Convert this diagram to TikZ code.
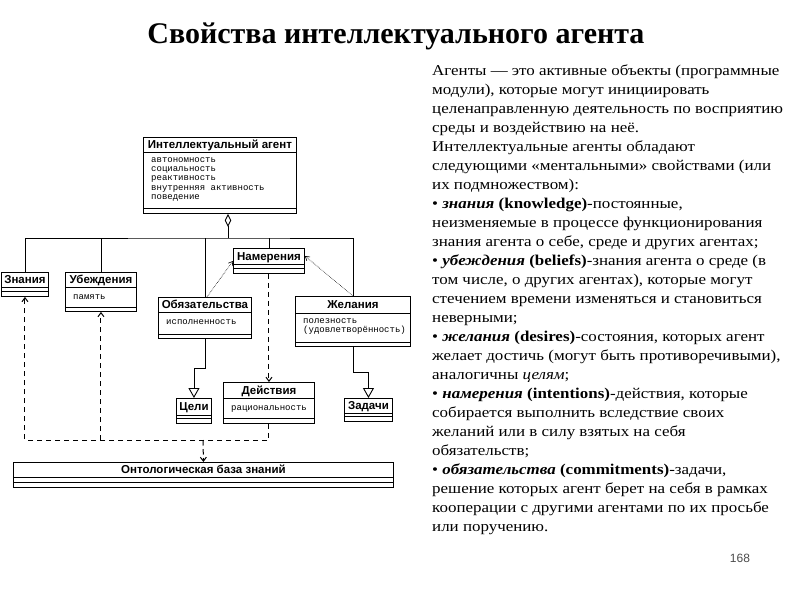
\documentclass[tikz,border=0pt]{standalone}
\usepackage{fontspec}
\setmainfont{Liberation Serif}
\setsansfont{Liberation Sans}
\setmonofont{Liberation Mono}
\newfontfamily\descfont{Liberation Serif}[FakeStretch=1.13]
\usetikzlibrary{positioning, arrows.meta, calc}

\begin{document}
\begin{tikzpicture}[x=1pt, y=-1pt,
      clsbox/.style={draw, line width=0.9pt, inner sep=0pt, fill=white},
      cname/.style={font=\sffamily\bfseries\fontsize{11.5}{13}\selectfont, text height=8.5pt, text depth=0.5pt, inner sep=0pt},
      cattr/.style={font=\ttfamily\fontsize{9}{9.2}\selectfont, align=left, inner sep=0pt, anchor=north west, execute at begin node=\strut},
      ln/.style={line width=0.9pt},
      aggr/.style={ln, -{Diamond[open, length=13pt, width=6.5pt]}},
      gen/.style={ln, -{Triangle[open, length=10pt, width=11pt]}},
      dep/.style={line width=1pt, dash pattern=on 5.5pt off 3.5pt, -{Straight Barb[length=4pt, width=6pt]}},
      rel/.style={line width=0.6pt, densely dotted, -{Straight Barb[length=4pt, width=5pt]}},
      ttl/.style={font=\bfseries\fontsize{30}{34}\selectfont, inner sep=0pt},
      txt/.style={font=\descfont\fontsize{15}{19}\selectfont, align=left, inner sep=0pt, anchor=north west},
      pgnum/.style={font=\sffamily\fontsize{12}{14}\selectfont, text=black!70, inner sep=0pt}]
      \fill[white] (0,0) rectangle (800,600);
      \useasboundingbox (0,0) rectangle (800,600);
      \node[ttl, anchor=base] (title) at (396,43) {Свойства интеллектуального агента};
      % class boxes: name / left / top / width / three part heights / title / attributes
      \foreach \n/\x/\y/\w/\a/\b/\c/\t/\s in {
          agent/143/137/153/15/56/5/{Интеллектуальный агент}/{автономность\\социальность\\реактивность\\внутренняя активность\\поведение},
          znan/1/272/47/15/4/5/{Знания}/{},
          ubezh/65/272/71/15/20/4/{Убеждения}/{память},
          namer/233/248/71/16/4/5/{Намерения}/{},
          obyaz/158/297/93/15/22/4/{Обязательства}/{исполненность},
          zhel/295/296/115/17/29/4/{Желания}/{полезность\\(удовлетворённость)},
          tseli/176/398/35/17/3/5/{Цели}/{},
          deistv/223/382/91/16/20/5/{Действия}/{рациональность},
          zadachi/344/398/48/15/3/5/{Задачи}/{},
          onto/13/462/380/15/5/5/{Онтологическая база знаний}/{}}{
        \node[clsbox, minimum width=\w, minimum height=\a+\b+\c, anchor=north west] (\n) at (\x,\y) {};
        \draw[ln] ($(\n.north west)+(0,\a)$) -- ++(\w,0) ($(\n.north west)+(0,\a+\b)$) -- ++(\w,0);
        \node[cname] (\n-t) at ($(\n.north)+(0,\a/2)$) {\t};
        \node[cattr] (\n-a) at ($(\n.north west)+(8,\a+5.5)$) {\s};
      }
      \coordinate (hub) at (228,238);
      \coordinate (lnk) at (203,440);
      % aggregation tree
      \draw[aggr] (hub) -- (hub |- agent.south);
      \draw[ln] (znan.north) |- (hub) -| (zhel.north);
      \foreach \k in {ubezh,obyaz,namer} \draw[ln] (\k.north) -- (\k.north |- hub);
      \draw[rel] ([xshift=2pt]obyaz.north) -- (namer.west);
      \draw[rel] (zhel.north) -- ([yshift=5pt]namer.east);
      % dependencies
      \draw[dep] (namer.south) -- (deistv.north);
      \draw[dep] (deistv.south) |- (lnk -| znan.south) -- (znan.south);
      \draw[dep] (lnk -| ubezh.south) -- (ubezh.south);
      \draw[dep] (lnk) -- (onto.north);
      % generalization
      \draw[gen] (obyaz.south) -- ++(0,30) -| (tseli.north);
      \draw[gen] (zhel.south) -- ++(0,26) -| (zadachi.north);
      \node[txt] (desc) at (432,65) {Агенты — это активные объекты (программные\\
        модули), которые могут инициировать\\
        целенаправленную деятельность по восприятию\\
        среды и воздействию на неё.\\
        Интеллектуальные агенты обладают\\
        следующими «ментальными» свойствами (или\\
        их подмножеством):\\
        • \textbf{\textit{знания} (knowledge)}-постоянные,\\
        неизменяемые в процессе функционирования\\
        знания агента о себе, среде и других агентах;\\
        • \textbf{\textit{убеждения} (beliefs)}-знания агента о среде (в\\
        том числе, о других агентах), которые могут\\
        стечением времени изменяться и становиться\\
        неверными;\\
        • \textbf{\textit{желания} (desires)}-состояния, которых агент\\
        желает достичь (могут быть противоречивыми),\\
        аналогичны \textit{целям};\\
        • \textbf{\textit{намерения} (intentions)}-действия, которые\\
        собирается выполнить вследствие своих\\
        желаний или в силу взятых на себя\\
        обязательств;\\
        • \textbf{\textit{обязательства} (commitments)}-задачи,\\
        решение которых агент берет на себя в рамках\\
        кооперации с другими агентами по их просьбе\\
        или поручению.};
      \node[pgnum, anchor=base] (page) at (740,562) {168};
\end{tikzpicture}
\end{document}
